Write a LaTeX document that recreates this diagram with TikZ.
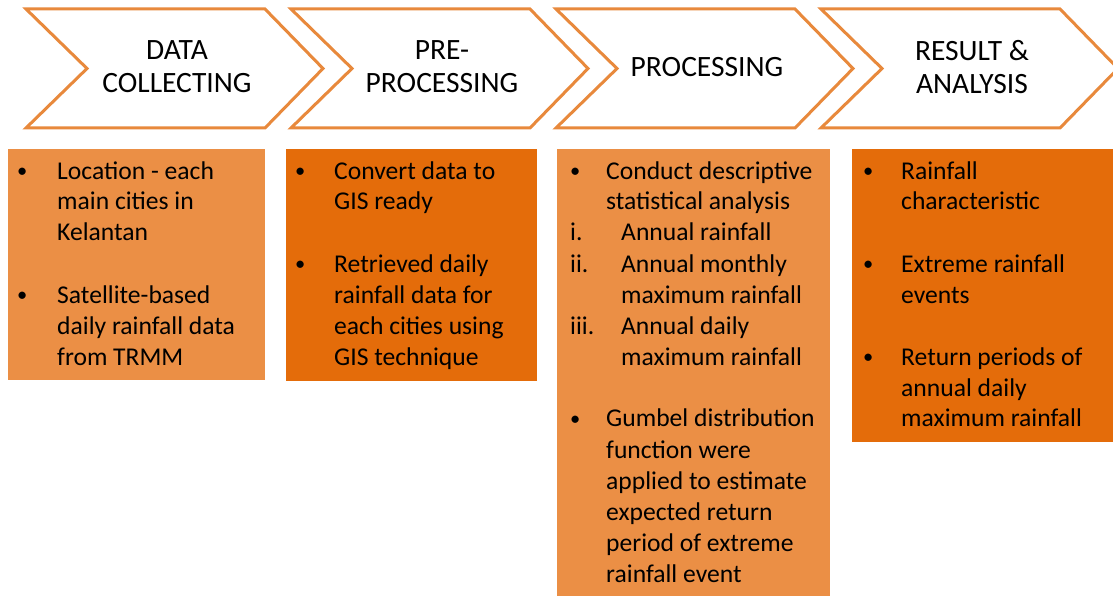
\documentclass[tikz,border=0pt]{standalone}
\usepackage{fontspec}
\setmainfont{Carlito}
\usepackage{xcolor}
\usetikzlibrary{positioning}
\definecolor{lightorg}{HTML}{EB8F45}
\definecolor{darkorg}{HTML}{E46C0A}
\definecolor{edgeorg}{HTML}{E8893C}
\newcommand{\bul}[1][34pt]{\makebox[#1][l]{\hspace*{-5pt}\raisebox{1.5pt}{\scalebox{0.8}{\textbullet}}}}
\newcommand{\ind}[1][34pt]{\hspace*{#1}}

\begin{document}
\begin{tikzpicture}[x=1pt,y=-1pt,
  chev/.style={draw=edgeorg,line width=3pt,fill=white,line join=miter},
  head/.style={font=\fontsize{29.5}{33}\selectfont,align=center,inner sep=0pt},
  btext/.style={anchor=base west,inner sep=0pt,font=\fontsize{25.6}{31}\selectfont}]
\useasboundingbox (0,0) rectangle (1113,596);
% stages
\foreach \i/\lab in {0/{DATA\\COLLECTING},1/{PRE-\\PROCESSING},2/PROCESSING,3/{RESULT \&\\ANALYSIS}}
{\draw[chev] ({26+265*\i},9) -- ({265+265*\i},9) -- ({323+265*\i},68.5)
   -- ({265+265*\i},128) -- ({26+265*\i},128) -- ({87+265*\i},68.5) -- cycle;
 \node[head] (stage\i) at ({177+265*\i},67) {\lab};}
% boxes
\fill[lightorg] (8,149) rectangle (265,380);
\fill[darkorg] (286,149) rectangle (537,381);
\fill[lightorg] (557,149) rectangle (830,596);
\fill[darkorg] (852,149) rectangle (1113,442);
\node[btext] (collect) at (22,179) {\begin{tabular}[t]{@{}l@{}}
\bul[35pt]Location - each\\
\ind[35pt]main cities in\\
\ind[35pt]Kelantan\\
\\
\bul[35pt]Satellite-based\\
\ind[35pt]daily rainfall data\\
\ind[35pt]from TRMM
\end{tabular}};
\node[btext] (prep) at (300,179) {\begin{tabular}[t]{@{}l@{}}
\bul Convert data to\\
\ind GIS ready\\
\\
\bul Retrieved daily\\
\ind rainfall data for\\
\ind each cities using\\
\ind GIS technique
\end{tabular}};
\node[btext] (proc) at (570,179) {\begin{tabular}[t]{@{}l@{}}
\ind[5pt]\bul[31pt]Conduct descriptive\\
\ind[36pt]statistical analysis\\
\makebox[51pt][l]{i.}Annual rainfall\\
\makebox[51pt][l]{ii.}Annual monthly\\
\ind[51pt]maximum rainfall\\
\makebox[51pt][l]{iii.}Annual daily\\
\ind[51pt]maximum rainfall\\
\\
\ind[5pt]\bul[31pt]Gumbel distribution\\
\ind[36pt]function were\\
\ind[36pt]applied to estimate\\
\ind[36pt]expected return\\
\ind[36pt]period of extreme\\
\ind[36pt]rainfall event
\end{tabular}};
\node[btext] (result) at (868,179) {\begin{tabular}[t]{@{}l@{}}
\bul[33pt]Rainfall\\
\ind[33pt]characteristic\\
\\
\bul[33pt]Extreme rainfall\\
\ind[33pt]events\\
\\
\bul[33pt]Return periods of\\
\ind[33pt]annual daily\\
\ind[33pt]maximum rainfall
\end{tabular}};
\end{tikzpicture}
\end{document}
